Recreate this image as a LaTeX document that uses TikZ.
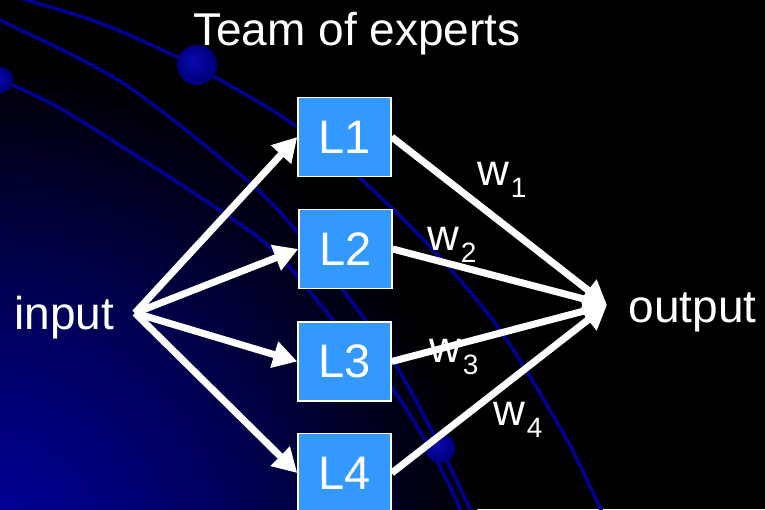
\documentclass[tikz,border=0pt]{standalone}
\usepackage{fontspec}
\setmainfont{Liberation Sans}
\usetikzlibrary{arrows.meta}

\definecolor{navyline}{RGB}{0,0,150}
\definecolor{boxblue}{RGB}{51,153,255}
\definecolor{glowA}{RGB}{0,0,165}
\definecolor{glowB}{RGB}{0,0,92}
\definecolor{orbhi}{RGB}{10,10,175}
\definecolor{orbmid}{RGB}{0,0,135}
\definecolor{orblo}{RGB}{0,0,90}

% soft blue glow rising from the lower left corner
% (the middle 50bp square of a shading is fitted to the path)
\pgfdeclareradialshading{cornerglow}{\pgfpoint{0bp}{0bp}}{color(0bp)=(glowA); color(12.5bp)=(glowB); color(25bp)=(black); color(50bp)=(black)}
% small shaded planets sitting on the orbits
\pgfdeclareradialshading{orb}{\pgfpoint{-6bp}{6bp}}{color(0bp)=(orbhi); color(20bp)=(orbmid); color(38bp)=(orblo)}

\newcommand\wsub[1]{w\kern2pt\raisebox{-12pt}{\fontsize{28}{30}\selectfont #1}}

\tikzset{
  orbit/.style={draw=navyline, line width=3.5pt, line cap=round},
  expert/.style={draw=white, line width=1.5pt, fill=boxblue, minimum width=93pt,
    minimum height=79pt, inner sep=0pt, text=white, font=\fontsize{47}{50}\selectfont},
  flow/.style={draw=white, line width=7pt, -{Triangle[length=24pt,width=26pt]}},
  caption/.style={text=white, font=\fontsize{46}{50}\selectfont, inner sep=0pt, anchor=base},
  weight/.style={text=white, font=\fontsize{44}{48}\selectfont, inner sep=0pt, anchor=base west},
}

\begin{document}
\begin{tikzpicture}[x=1pt,y=-1pt]
\useasboundingbox (0,0) rectangle (765,509);
\fill[black] (0,0) rectangle (765,509);

\begin{scope}
  \clip (0,0) rectangle (765,509);
  \shade[shading=cornerglow] (-20,560) circle[radius=500pt];

  % orbits
  \draw[orbit] plot[smooth] coordinates {(-10,-12) (27,0) (100,23) (177,57) (250,97) (297,127) (360,178) (433,250) (500,330) (567,440) (610,530)};
  \draw[orbit] plot[smooth] coordinates {(-10,15) (0,20) (123,83) (250,183) (298,233) (343,290) (391,357) (433,433) (470,509) (478,530)};
  \draw[orbit] plot[smooth] coordinates {(0,80) (63,110) (200,197) (273,250) (333,320) (395,392) (440,467) (460,509) (466,525)};

  % planets
  \shade[shading=orb] (197,65) circle[radius=20pt];
  \shade[shading=orb] (0,80) circle[radius=13pt];
  \shade[shading=orb] (440,448) circle[radius=15pt];
\end{scope}

% experts
\node[expert] (L1) at (344.5,137) {L1};
\node[expert] (L2) at (345.5,249) {L2};
\node[expert] (L3) at (344.5,361.5) {L3};
\node[expert] (L4) at (344.5,473) {L4};

\coordinate (src) at (135,313);
\coordinate (dst) at (607,305);

% input fans out to every expert
\foreach \e in {L1,L2,L3,L4}
  \draw[flow] (src) -- (\e.west);
% weighted outputs merge
\foreach \e in {L1,L2,L3,L4}
  \draw[flow] (\e.east) -- (dst);

% texts
\node[caption] (title) at (357,45) {Team of experts};
\node[caption] (inp) at (64.5,329) {input};
\node[caption] (outp) at (692.5,322) {output};

\node[weight] (w1) at (477,185) {\wsub{1}};
\node[weight] (w2) at (427,250) {\wsub{2}};
\node[weight] (w3) at (429,362) {\wsub{3}};
\node[weight] (w4) at (493,425) {\wsub{4}};
\end{tikzpicture}
\end{document}
